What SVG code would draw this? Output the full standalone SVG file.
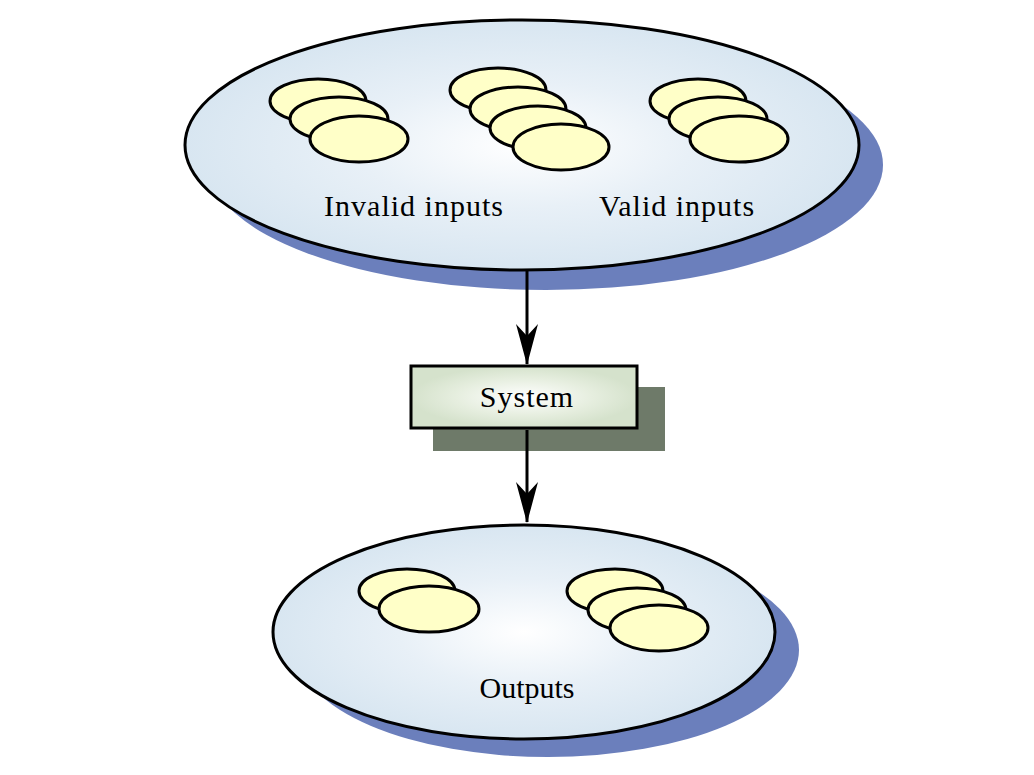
<svg xmlns="http://www.w3.org/2000/svg" width="1034" height="775" viewBox="0 0 1034 775">
<defs>
<radialGradient id="blueFill" cx="0.5" cy="0.5" r="0.5">
<stop offset="0" stop-color="#ffffff"/>
<stop offset="0.5" stop-color="#e8f0f7"/>
<stop offset="1" stop-color="#d8e6f1"/>
</radialGradient>
<radialGradient id="greenFill" cx="0.5" cy="0.5" r="0.5">
<stop offset="0" stop-color="#ffffff"/>
<stop offset="0.6" stop-color="#e6eedf"/>
<stop offset="1" stop-color="#d5e2cc"/>
</radialGradient>
<marker id="arrow" viewBox="0 0 42 22" refX="40" refY="11" markerWidth="42" markerHeight="22" markerUnits="userSpaceOnUse" orient="auto">
<path d="M0,0 L41,11 L0,22 L12,11 Z" fill="#000"/>
</marker>
<style>
.big{fill:url(#blueFill);stroke:#000;stroke-width:3}
.shadow{fill:#6b7fbc}
.chip{fill:#ffffc8;stroke:#000;stroke-width:3}
.lbl{font-family:"Liberation Serif","Times New Roman",serif;font-size:30px;fill:#000;text-anchor:middle}
.conn{stroke:#000;stroke-width:3;fill:none}
</style>
</defs>
<rect width="1034" height="775" fill="#fff"/>
<g id="inputs">
<ellipse class="shadow" cx="546" cy="165" rx="337" ry="125"/>
<ellipse class="big" cx="522" cy="145" rx="337" ry="125"/>
<ellipse class="chip" cx="318" cy="101" rx="48" ry="22"/>
<ellipse class="chip" cx="339" cy="119" rx="49" ry="22"/>
<ellipse class="chip" cx="359" cy="139" rx="49" ry="23"/>
<ellipse class="chip" cx="498" cy="90" rx="48" ry="22"/>
<ellipse class="chip" cx="518" cy="109" rx="48" ry="22"/>
<ellipse class="chip" cx="538" cy="128" rx="48" ry="22"/>
<ellipse class="chip" cx="561" cy="147" rx="48" ry="23"/>
<ellipse class="chip" cx="698" cy="101" rx="48" ry="22"/>
<ellipse class="chip" cx="718" cy="119" rx="49" ry="22"/>
<ellipse class="chip" cx="739" cy="139" rx="49" ry="23"/>
<text class="lbl" x="414" y="216" letter-spacing="1">Invalid inputs</text>
<text class="lbl" x="677" y="216" letter-spacing="1">Valid inputs</text>
</g>
<g id="system">
<rect x="433" y="387" width="232" height="64" fill="#6e7a69"/>
<rect x="411" y="366" width="226" height="62" fill="url(#greenFill)" stroke="#000" stroke-width="3"/>
<text class="lbl" x="527" y="407" letter-spacing="1">System</text>
</g>
<g id="outputs">
<ellipse class="shadow" cx="548" cy="650" rx="251" ry="107"/>
<ellipse class="big" cx="524" cy="632" rx="251" ry="107"/>
<ellipse class="chip" cx="407" cy="591" rx="48" ry="22"/>
<ellipse class="chip" cx="429" cy="609" rx="50" ry="23"/>
<ellipse class="chip" cx="615" cy="591" rx="48" ry="22"/>
<ellipse class="chip" cx="637" cy="610" rx="49" ry="22"/>
<ellipse class="chip" cx="659" cy="628" rx="49" ry="23"/>
<text class="lbl" x="527" y="698">Outputs</text>
</g>
<g id="connectors">
<line class="conn" x1="527" y1="271" x2="527" y2="364" marker-end="url(#arrow)"/>
<line class="conn" x1="527" y1="430" x2="527" y2="522" marker-end="url(#arrow)"/>
</g>
</svg>
